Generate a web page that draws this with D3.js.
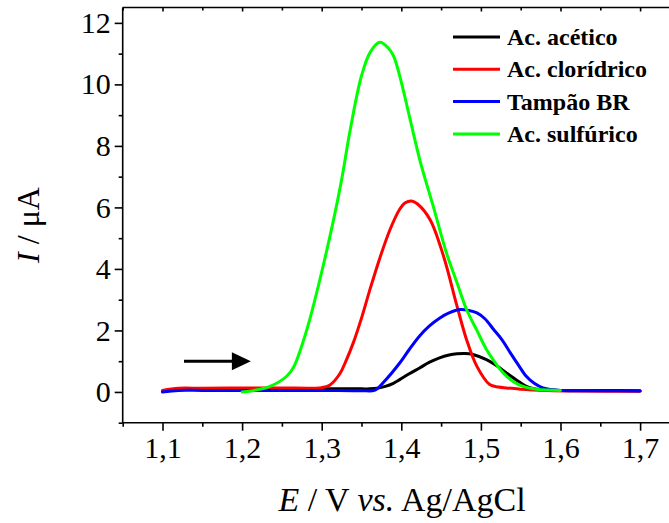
<!DOCTYPE html>
<html>
<head>
<meta charset="utf-8">
<script src="https://cdn.jsdelivr.net/npm/d3@7"></script>
<style>
  html, body { margin: 0; padding: 0; background: #fff; }
  svg { display: block; }
  text { font-family: "Liberation Serif", "Times New Roman", serif; fill: #000; }
</style>
</head>
<body>
<svg id="chart" width="669" height="523"></svg>
<script>
// ---- data ----
const seriesNames = ["Ac. acético", "Ac. clorídrico", "Tampão BR", "Ac. sulfúrico"];
const seriesColors = ["#000000", "#ff0000", "#0000ff", "#00ff00"];

const acetX = [1.10,1.12,1.15,1.20,1.25,1.30,1.35,1.36,1.37,1.38,1.39,1.398,1.41,1.423,1.435,1.448,1.46,1.47,1.48,1.49,1.507,1.52,1.532,1.545,1.557,1.57,1.585,1.60,1.65,1.70];
const acetY = [0.03,0.08,0.10,0.10,0.10,0.10,0.10,0.10,0.12,0.18,0.28,0.40,0.59,0.78,0.96,1.11,1.20,1.24,1.25,1.22,1.05,0.85,0.62,0.38,0.18,0.09,0.06,0.05,0.05,0.04];

const clorX = [1.10,1.12,1.15,1.20,1.25,1.30,1.31,1.323,1.33,1.34,1.35,1.36,1.373,1.386,1.398,1.405,1.413,1.42,1.436,1.453,1.47,1.482,1.495,1.511,1.522,1.532,1.55,1.583,1.62,1.70];
const clorY = [0.05,0.12,0.12,0.13,0.13,0.14,0.22,0.60,0.98,1.62,2.40,3.28,4.35,5.29,5.94,6.15,6.21,6.12,5.61,4.42,2.79,1.70,0.83,0.24,0.16,0.13,0.09,0.05,0.03,0.02];

const tampX = [1.10,1.12,1.15,1.20,1.25,1.30,1.35,1.367,1.38,1.398,1.41,1.423,1.435,1.448,1.46,1.474,1.485,1.495,1.505,1.516,1.527,1.537,1.547,1.557,1.567,1.578,1.59,1.60,1.65,1.70];
const tampY = [0.00,0.05,0.05,0.05,0.05,0.05,0.04,0.06,0.38,0.94,1.38,1.82,2.14,2.40,2.57,2.68,2.65,2.57,2.38,2.03,1.68,1.27,0.88,0.51,0.28,0.13,0.07,0.05,0.04,0.03];

const sulfX = [1.20,1.215,1.235,1.256,1.265,1.273,1.285,1.30,1.315,1.325,1.336,1.350,1.361,1.373,1.383,1.390,1.398,1.411,1.423,1.430,1.440,1.457,1.470,1.482,1.495,1.507,1.518,1.528,1.540,1.553,1.57,1.585,1.60];
const sulfY = [0.00,0.05,0.18,0.51,0.82,1.35,2.36,3.90,5.61,6.90,8.55,10.28,11.05,11.37,11.20,10.94,10.28,8.87,7.57,6.92,6.05,4.50,3.55,2.68,2.00,1.38,0.95,0.62,0.35,0.18,0.09,0.06,0.05];

const xMajorTicks = [1.1, 1.2, 1.3, 1.4, 1.5, 1.6, 1.7];
const xMinorTicks = [1.05, 1.15, 1.25, 1.35, 1.45, 1.55, 1.65, 1.75];
const yMajorTicks = [0, 2, 4, 6, 8, 10, 12];
const yMinorTicks = [-1, 1, 3, 5, 7, 9, 11];

const arrowX = [1.127, 1.211];
const arrowY = 1.0;

// ---- layout ----
const svg = d3.select("#chart");
const x = d3.scaleLinear().domain([1.05, 1.75]).range([122.7, 679.9]);
const y = d3.scaleLinear().domain([-1, 12.5]).range([422.7, 7.5]);
const fmt = d => d3.format(".1f")(d).replace(".", ",");

// frame lines
const frame = svg.append("g").attr("stroke", "#000").attr("stroke-width", 1.6).attr("fill", "none");
frame.append("line").attr("x1", x(1.05)).attr("x2", x(1.75)).attr("y1", y(-1)).attr("y2", y(-1));
frame.append("line").attr("x1", x(1.05)).attr("x2", x(1.75)).attr("y1", y(12.5)).attr("y2", y(12.5));
frame.append("line").attr("x1", x(1.05)).attr("x2", x(1.05)).attr("y1", y(-1)).attr("y2", y(12.5));
frame.append("line").attr("x1", x(1.75)).attr("x2", x(1.75)).attr("y1", y(-1)).attr("y2", y(12.5));

// bottom axis
const gx = svg.append("g").attr("transform", `translate(0,${y(-1)})`)
  .call(d3.axisBottom(x).tickValues(xMajorTicks).tickSize(8).tickPadding(6).tickFormat(fmt));
const gx2 = svg.append("g").attr("transform", `translate(0,${y(-1)})`)
  .call(d3.axisBottom(x).tickValues(xMinorTicks).tickSize(4).tickFormat(""));
// top axis (inward ticks)
const gt1 = svg.append("g").attr("transform", `translate(0,${y(12.5)})`)
  .call(d3.axisBottom(x).tickValues(xMajorTicks).tickSize(4).tickFormat(""));
const gt2 = svg.append("g").attr("transform", `translate(0,${y(12.5)})`)
  .call(d3.axisBottom(x).tickValues(xMinorTicks).tickSize(3).tickFormat(""));
// left axis
const gy = svg.append("g").attr("transform", `translate(${x(1.05)},0)`)
  .call(d3.axisLeft(y).tickValues(yMajorTicks).tickSize(8).tickPadding(4).tickFormat(d => d));
const gy2 = svg.append("g").attr("transform", `translate(${x(1.05)},0)`)
  .call(d3.axisLeft(y).tickValues(yMinorTicks).tickSize(4).tickFormat(""));

[gx, gx2, gt1, gt2, gy, gy2].forEach(g => {
  g.select(".domain").remove();
  g.selectAll(".tick line").attr("stroke", "#000").attr("stroke-width", 1.6);
  g.selectAll("text").attr("font-family", "Liberation Serif, serif").attr("font-size", 30).attr("fill", "#000");
});

// axis titles
const xt = svg.append("text").attr("x", 402).attr("y", 511).attr("text-anchor", "middle").attr("font-size", 34);
xt.append("tspan").attr("font-style", "italic").text("E");
xt.append("tspan").text(" / V ");
xt.append("tspan").attr("font-style", "italic").text("vs.");
xt.append("tspan").text(" Ag/AgCl");

const yt = svg.append("text").attr("transform", "translate(39,225) rotate(-90)").attr("text-anchor", "middle").attr("font-size", 32);
yt.append("tspan").attr("font-style", "italic").text("I");
yt.append("tspan").text(" / μA");

// curves
const series = [
  { name: seriesNames[0], color: seriesColors[0], xs: acetX, ys: acetY },
  { name: seriesNames[1], color: seriesColors[1], xs: clorX, ys: clorY },
  { name: seriesNames[2], color: seriesColors[2], xs: tampX, ys: tampY },
  { name: seriesNames[3], color: seriesColors[3], xs: sulfX, ys: sulfY }
];
const line = d3.line().x(d => x(d[0])).y(d => y(d[1])).curve(d3.curveCatmullRom.alpha(0.5));
svg.append("g").selectAll("path").data(series).join("path")
  .attr("d", s => line(s.xs.map((v, i) => [v, s.ys[i]])))
  .attr("fill", "none").attr("stroke", s => s.color).attr("stroke-width", 3)
  .attr("stroke-linejoin", "round").attr("stroke-linecap", "round");

// arrow
svg.append("line").attr("x1", x(arrowX[0])).attr("x2", x(arrowX[1]) - 15)
  .attr("y1", y(arrowY)).attr("y2", y(arrowY)).attr("stroke", "#000").attr("stroke-width", 3);
svg.append("path")
  .attr("d", `M${x(arrowX[1])},${y(arrowY)} L${x(arrowX[1]) - 19},${y(arrowY) - 9} L${x(arrowX[1]) - 19},${y(arrowY) + 9} Z`)
  .attr("fill", "#000");

// legend
const legend = svg.append("g").attr("transform", "translate(453,37)");
const rows = legend.selectAll("g").data(series).join("g").attr("transform", (d, i) => `translate(0,${i * 32.3})`);
rows.append("line").attr("x1", 0).attr("x2", 47).attr("y1", 0).attr("y2", 0)
  .attr("stroke", d => d.color).attr("stroke-width", 3);
rows.append("text").attr("x", 54).attr("y", 8).attr("font-weight", "bold").attr("font-size", 24).text(d => d.name);
</script>
</body>
</html>
